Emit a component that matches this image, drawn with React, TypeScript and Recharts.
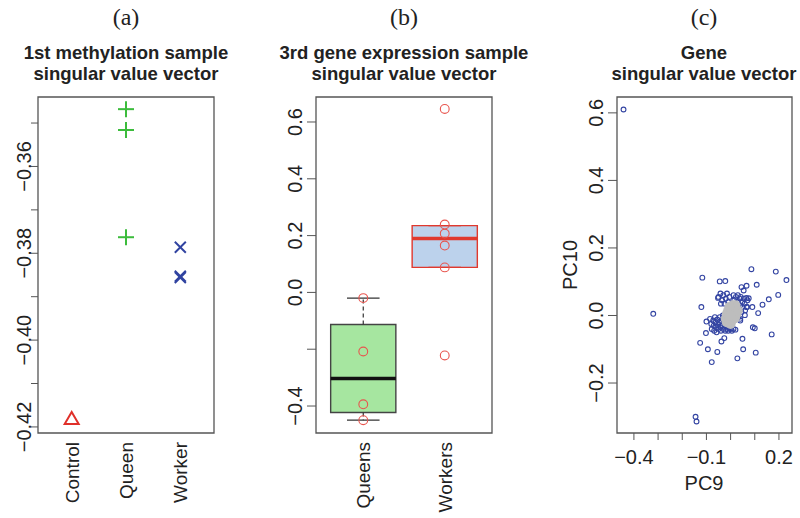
import React from "react";
import { ScatterChart, Scatter, XAxis, YAxis, ReferenceArea, ReferenceLine } from "recharts";

const FONT = '"Liberation Sans", Arial, Helvetica, sans-serif';
const SERIF = '"Liberation Serif", "Times New Roman", serif';
const AXIS = "#555";
const TXT = "#222";

// (a) methylation
const catsA = ["Control", "Queen", "Worker"];
const controlA = [-0.4182];
const queenA = [-0.3468, -0.3516, -0.3763];
const workerA = [-0.3786, -0.3853, -0.3856];
const yTicksA = [-0.42, -0.41, -0.4, -0.39, -0.38, -0.37, -0.36, -0.35];
const yLabelsA = ["\u22120.42", "", "\u22120.40", "", "\u22120.38", "", "\u22120.36", ""];

// (b) gene expression boxplot
const groupsB = ["Queens", "Workers"];
const queensB = [-0.02, -0.208, -0.394, -0.45];
const workersB = [0.646, 0.239, 0.207, 0.165, 0.088, -0.222];
const q1B = [-0.423, 0.088];
const medB = [-0.303, 0.19];
const q3B = [-0.113, 0.235];
const loB = [-0.45, 0.088];
const hiB = [-0.02, 0.235];
const yTicksB = [-0.4, -0.2, 0, 0.2, 0.4, 0.6];
const yLabelsB = ["\u22120.4", "", "0.0", "0.2", "0.4", "0.6"];

// (c) gene singular vector, PC9 vs PC10
const xTicksC = [-0.4, -0.3, -0.2, -0.1, 0, 0.1, 0.2];
const xLabelsC = ["\u22120.4", "", "", "\u22120.1", "", "", "0.2"];
const yTicksC = [-0.2, 0, 0.2, 0.4, 0.6];
const yLabelsC = ["\u22120.2", "0.0", "0.2", "0.4", "0.6"];
const bluePts: [number, number][] = [
  [-0.443, 0.61], [-0.32, 0.005], [-0.145, -0.3], [-0.141, -0.314],
  [-0.117, 0.112], [-0.121, 0.025], [-0.126, -0.081], [-0.1, -0.018],
  [-0.102, -0.052], [-0.094, -0.1], [-0.078, -0.138], [-0.055, -0.108],
  [-0.045, 0.101], [-0.022, 0.102], [-0.052, 0.052], [-0.038, -0.077],
  [-0.026, -0.067], [0.028, -0.127], [0.052, -0.1], [0.049, -0.069],
  [0.086, 0.137], [0.066, 0.088], [0.045, 0.084], [0.054, 0.074],
  [0.108, 0.091], [0.187, 0.13], [0.231, 0.105], [0.197, 0.061],
  [0.158, 0.048], [0.132, 0.032], [0.114, 0.007], [0.09, 0.025],
  [0.1, -0.038], [0.092, -0.035], [0.17, -0.056], [0.104, -0.11],
  [0.075, 0.051], [0.066, 0.025], [0.059, 0.001], [0.04, -0.015],
  [-0.085, -0.01], [-0.08, -0.025], [-0.078, -0.04], [-0.072, -0.015],
  [-0.07, -0.03], [-0.068, -0.045], [-0.065, -0.005], [-0.062, -0.02],
  [-0.06, -0.035], [-0.058, -0.05], [-0.055, -0.012], [-0.052, -0.028],
  [-0.05, -0.04], [-0.048, -0.02], [-0.045, -0.005], [-0.042, -0.035],
  [-0.04, -0.045], [-0.038, -0.015], [-0.035, -0.03], [-0.032, 0.0],
  [-0.03, -0.04], [-0.028, -0.02], [-0.025, -0.01], [-0.022, -0.045],
  [-0.02, -0.03], [-0.015, -0.04], [-0.01, -0.045], [-0.005, -0.035],
  [0.0, -0.04], [0.005, -0.045], [0.012, -0.04], [0.02, -0.042],
  [-0.05, 0.055], [-0.042, 0.065], [-0.035, 0.045], [-0.03, 0.06],
  [-0.025, 0.035], [-0.02, 0.05], [-0.015, 0.065], [-0.01, 0.04],
  [-0.005, 0.055], [-0.04, 0.035],
  [0.01, 0.03], [0.015, 0.045], [0.02, 0.01], [0.022, 0.055],
  [0.025, 0.025], [0.03, 0.04], [0.032, -0.005], [0.035, 0.015],
  [0.038, 0.05], [0.04, 0.03], [0.042, 0.055], [0.045, 0.01],
  [0.048, 0.04], [0.05, 0.025], [0.055, 0.05], [0.058, 0.035],
  [0.06, 0.015], [0.065, 0.052], [0.07, 0.045], [0.068, 0.025],
  [0.03, 0.06], [0.02, 0.035], [0.04, -0.01], [0.012, 0.06],
];
const grayPts: [number, number][] = [
  [-0.02, -0.01], [-0.015, 0.005], [-0.01, -0.02], [-0.005, 0.0],
  [0.0, 0.02], [0.0, -0.025], [0.005, 0.01], [0.01, -0.01],
  [0.01, 0.03], [0.015, 0.0], [0.02, 0.02], [0.025, 0.005],
  [0.03, 0.015], [-0.01, 0.015], [0.005, -0.015], [-0.016, -0.02],
  [0.018, -0.008], [0.02, 0.03], [-0.005, 0.025], [0.0, 0.0],
];

const findLabel = (ticks: number[], labels: string[], v: number) => {
  const i = ticks.findIndex((t) => Math.abs(t - v) < 1e-9);
  return i >= 0 ? labels[i] : "";
};

const yTick = (bx: number, ticks: number[], labels: string[]) => (p: any) => (
  <text
    x={bx}
    y={p.y}
    transform={`rotate(-90 ${bx} ${p.y})`}
    textAnchor="middle"
    fontSize={20}
    fontFamily={FONT}
    fill={TXT}
  >
    {findLabel(ticks, labels, p.payload.value)}
  </text>
);

const catTick = (cats: string[]) => (p: any) => {
  const bx = p.x + 7;
  return (
    <text
      x={bx}
      y={442}
      transform={`rotate(-90 ${bx} 442)`}
      textAnchor="end"
      fontSize={19}
      fontFamily={FONT}
      fill={TXT}
    >
      {cats[Math.round(p.payload.value) - 1]}
    </text>
  );
};

const PlusShape = (p: any) => (
  <g stroke="#3cbc3c" strokeWidth={2}>
    <line x1={p.cx - 8} y1={p.cy} x2={p.cx + 8} y2={p.cy} />
    <line x1={p.cx} y1={p.cy - 8} x2={p.cx} y2={p.cy + 8} />
  </g>
);
const CrossShape = (p: any) => (
  <g stroke="#3043a0" strokeWidth={2}>
    <line x1={p.cx - 5.5} y1={p.cy - 5.5} x2={p.cx + 5.5} y2={p.cy + 5.5} />
    <line x1={p.cx - 5.5} y1={p.cy + 5.5} x2={p.cx + 5.5} y2={p.cy - 5.5} />
  </g>
);
const TriShape = (p: any) => (
  <polygon
    points={`${p.cx},${p.cy - 7} ${p.cx - 7},${p.cy + 5} ${p.cx + 7},${p.cy + 5}`}
    fill="none"
    stroke="#e0302a"
    strokeWidth={2}
  />
);
const RedCircle = (p: any) => (
  <circle cx={p.cx} cy={p.cy} r={4.4} fill="none" stroke="#e8554e" strokeWidth={1.1} />
);
const BlueCircle = (p: any) => (
  <circle cx={p.cx} cy={p.cy} r={2.4} fill="none" stroke="#3344a2" strokeWidth={1.1} />
);
const GrayDot = (p: any) => <circle cx={p.cx} cy={p.cy} r={5} fill="#bdbdbd" />;

function PanelA() {
  const xd = [0.38, 3.62];
  const yd = [-0.4214, -0.344];
  return (
    <ScatterChart width={270} height={518} margin={{ top: 97, right: 56, bottom: 0, left: 0 }}>
      <XAxis
        type="number"
        dataKey="x"
        domain={xd}
        ticks={[1, 2, 3]}
        allowDataOverflow
        height={85}
        axisLine={false}
        tickLine={false}
        interval={0}
        tick={catTick(catsA)}
      />
      <YAxis
        type="number"
        dataKey="y"
        domain={yd}
        ticks={yTicksA}
        allowDataOverflow
        width={38}
        axisLine={false}
        tickSize={7}
        tickLine={{ stroke: AXIS }}
        interval={0}
        tick={yTick(31, yTicksA, yLabelsA)}
      />
      <ReferenceArea x1={xd[0]} x2={xd[1]} y1={yd[0]} y2={yd[1]} fill="none" stroke={AXIS} strokeWidth={1.3} ifOverflow="visible" />
      <Scatter data={controlA.map((y) => ({ x: 1, y }))} shape={TriShape} isAnimationActive={false} />
      <Scatter data={queenA.map((y) => ({ x: 2, y }))} shape={PlusShape} isAnimationActive={false} />
      <Scatter data={workerA.map((y) => ({ x: 3, y }))} shape={CrossShape} isAnimationActive={false} />
    </ScatterChart>
  );
}

function PanelB() {
  const xd = [0.42, 2.58];
  const yd = [-0.495, 0.688];
  const fills = ["#a6e6a0", "#bcd2ec"];
  const strokes = ["#444", "#e0392e"];
  const meds = ["#111", "#e0392e"];
  return (
    <ScatterChart width={270} height={518} margin={{ top: 97, right: 48, bottom: 0, left: 0 }}>
      <XAxis
        type="number"
        dataKey="x"
        domain={xd}
        ticks={[1, 2]}
        allowDataOverflow
        height={85}
        axisLine={false}
        tickLine={false}
        interval={0}
        tick={catTick(groupsB)}
      />
      <YAxis
        type="number"
        dataKey="y"
        domain={yd}
        ticks={yTicksB}
        allowDataOverflow
        width={46}
        axisLine={false}
        tickSize={9}
        tickLine={{ stroke: AXIS }}
        interval={0}
        tick={yTick(32, yTicksB, yLabelsB)}
      />
      <ReferenceArea x1={xd[0]} x2={xd[1]} y1={yd[0]} y2={yd[1]} fill="none" stroke={AXIS} strokeWidth={1.3} ifOverflow="visible" />
      {groupsB.map((g, i) => (
        <ReferenceArea
          key={g}
          x1={i + 1 - 0.4}
          x2={i + 1 + 0.4}
          y1={q1B[i]}
          y2={q3B[i]}
          fill={fills[i]}
          fillOpacity={1}
          stroke={strokes[i]}
          strokeWidth={1.4}
          ifOverflow="visible"
        />
      ))}
      {groupsB.map((g, i) => (
        <ReferenceLine
          key={g + "hi"}
          segment={[{ x: i + 1, y: q3B[i] }, { x: i + 1, y: hiB[i] }]}
          stroke="#333"
          strokeDasharray="4 3"
          strokeWidth={1.2}
          ifOverflow="visible"
        />
      ))}
      {groupsB.map((g, i) => (
        <ReferenceLine
          key={g + "lo"}
          segment={[{ x: i + 1, y: q1B[i] }, { x: i + 1, y: loB[i] }]}
          stroke="#333"
          strokeDasharray="4 3"
          strokeWidth={1.2}
          ifOverflow="visible"
        />
      ))}
      {groupsB.map((g, i) => (
        <ReferenceLine
          key={g + "cap1"}
          segment={[{ x: i + 1 - 0.2, y: hiB[i] }, { x: i + 1 + 0.2, y: hiB[i] }]}
          stroke={i === 0 ? "#333" : strokes[i]}
          strokeWidth={1.2}
          ifOverflow="visible"
        />
      ))}
      {groupsB.map((g, i) => (
        <ReferenceLine
          key={g + "cap2"}
          segment={[{ x: i + 1 - 0.2, y: loB[i] }, { x: i + 1 + 0.2, y: loB[i] }]}
          stroke={i === 0 ? "#333" : strokes[i]}
          strokeWidth={1.2}
          ifOverflow="visible"
        />
      ))}
      {groupsB.map((g, i) => (
        <ReferenceLine
          key={g + "med"}
          segment={[{ x: i + 1 - 0.4, y: medB[i] }, { x: i + 1 + 0.4, y: medB[i] }]}
          stroke={meds[i]}
          strokeWidth={3.6}
          ifOverflow="visible"
        />
      ))}
      <Scatter data={queensB.map((y) => ({ x: 1, y }))} shape={RedCircle} isAnimationActive={false} />
      <Scatter data={workersB.map((y) => ({ x: 2, y }))} shape={RedCircle} isAnimationActive={false} />
    </ScatterChart>
  );
}

function PanelC() {
  const xd = [-0.47, 0.254];
  const yd = [-0.348, 0.647];
  const xTick = (p: any) => (
    <text x={p.x} y={464} textAnchor="middle" fontSize={20} fontFamily={FONT} fill={TXT}>
      {findLabel(xTicksC, xLabelsC, p.payload.value)}
    </text>
  );
  return (
    <ScatterChart width={260} height={518} margin={{ top: 97, right: 8, bottom: 0, left: 0 }}>
      <XAxis
        type="number"
        dataKey="x"
        domain={xd}
        ticks={xTicksC}
        allowDataOverflow
        height={85}
        axisLine={false}
        tickSize={7}
        tickLine={{ stroke: AXIS }}
        interval={0}
        tick={xTick}
      />
      <YAxis
        type="number"
        dataKey="y"
        domain={yd}
        ticks={yTicksC}
        allowDataOverflow
        width={77}
        axisLine={false}
        tickSize={9}
        tickLine={{ stroke: AXIS }}
        interval={0}
        tick={yTick(63, yTicksC, yLabelsC)}
      />
      <ReferenceArea x1={xd[0]} x2={xd[1]} y1={yd[0]} y2={yd[1]} fill="none" stroke={AXIS} strokeWidth={1.3} ifOverflow="visible" />
      <Scatter data={bluePts.map(([x, y]) => ({ x, y }))} shape={BlueCircle} isAnimationActive={false} />
      <Scatter data={grayPts.map(([x, y]) => ({ x, y }))} shape={GrayDot} isAnimationActive={false} />
    </ScatterChart>
  );
}

export default function App() {
  const tStyle = { fontFamily: FONT, fontSize: 18.5, fontWeight: 700, fill: TXT } as const;
  const lStyle = { fontFamily: SERIF, fontSize: 24, fill: TXT } as const;
  return (
    <div style={{ position: "absolute", left: 0, top: 0, width: 800, height: 518, background: "#fff", overflow: "hidden" }}>
      <div style={{ position: "absolute", left: 0, top: 0 }}>
        <PanelA />
      </div>
      <div style={{ position: "absolute", left: 270, top: 0 }}>
        <PanelB />
      </div>
      <div style={{ position: "absolute", left: 540, top: 0 }}>
        <PanelC />
      </div>
      <svg width={800} height={518} style={{ position: "absolute", left: 0, top: 0, pointerEvents: "none" }}>
        <text x={126} y={25} textAnchor="middle" style={lStyle}>(a)</text>
        <text x={404} y={25} textAnchor="middle" style={lStyle}>(b)</text>
        <text x={704} y={25} textAnchor="middle" style={lStyle}>(c)</text>
        <text x={126} y={59} textAnchor="middle" style={tStyle}>1st methylation sample</text>
        <text x={126} y={80} textAnchor="middle" style={tStyle}>singular value vector</text>
        <text x={404} y={59} textAnchor="middle" style={tStyle}>3rd gene expression sample</text>
        <text x={404} y={80} textAnchor="middle" style={tStyle}>singular value vector</text>
        <text x={704} y={59} textAnchor="middle" style={tStyle}>Gene</text>
        <text x={704} y={80} textAnchor="middle" style={tStyle}>singular value vector</text>
        <text x={704} y={490} textAnchor="middle" fontFamily={FONT} fontSize={20} fill={TXT}>PC9</text>
        <text x={577} y={265} transform="rotate(-90 577 265)" textAnchor="middle" fontFamily={FONT} fontSize={20} fill={TXT}>PC10</text>
      </svg>
    </div>
  );
}
